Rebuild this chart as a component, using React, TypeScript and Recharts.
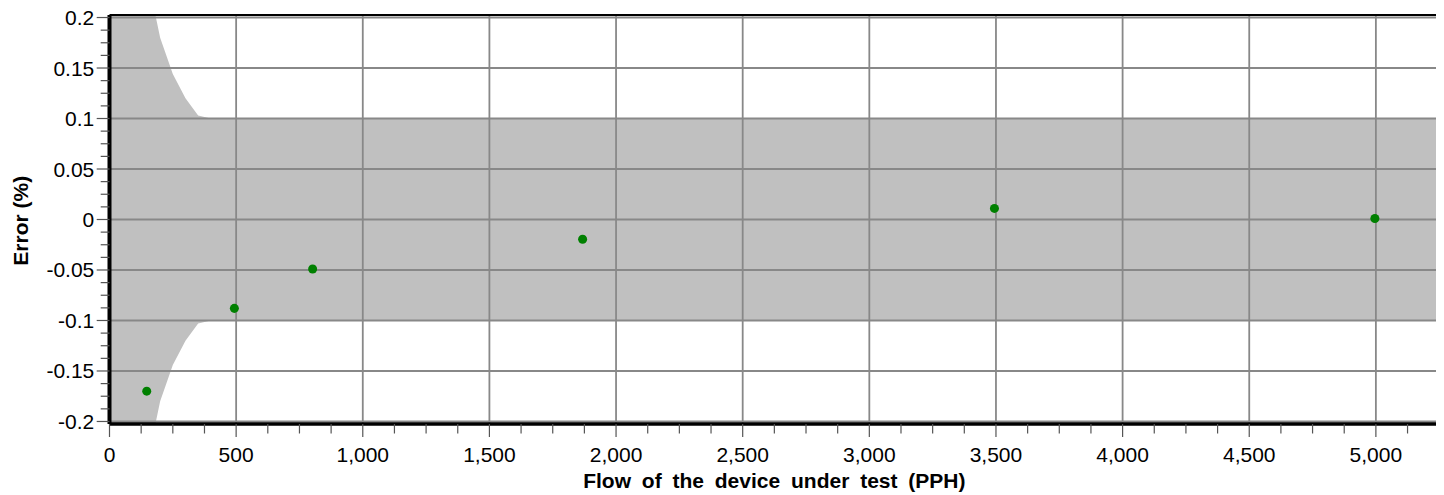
import React from 'react';
import { ComposedChart, Area, Scatter, XAxis, YAxis, ReferenceLine, Label } from 'recharts';

// Tolerance envelope (± half width, % error) vs flow (PPH)
const bandFlow = [0, 150, 200, 250, 300, 350, 400, 5250];
const bandHalfWidth = [0.6, 0.24, 0.18, 0.144, 0.12, 0.103, 0.1, 0.1];

// Measured points
const pointFlow = [147, 493, 802, 1868, 3494, 4996];
const pointError = [-0.17, -0.088, -0.049, -0.0195, 0.011, 0.001];

// Axis ticks
const xMajorTicks = [0, 500, 1000, 1500, 2000, 2500, 3000, 3500, 4000, 4500, 5000];
const xMinorTicks = [
  125, 250, 375, 625, 750, 875, 1125, 1250, 1375, 1625, 1750, 1875, 2125, 2250, 2375,
  2625, 2750, 2875, 3125, 3250, 3375, 3625, 3750, 3875, 4125, 4250, 4375, 4625, 4750,
  4875, 5125, 5250,
];
const yMajorTicks = [-0.2, -0.15, -0.1, -0.05, 0, 0.05, 0.1, 0.15, 0.2];
const yMinorTicks = [
  -0.1875, -0.175, -0.1625, -0.1375, -0.125, -0.1125, -0.0875, -0.075, -0.0625,
  -0.0375, -0.025, -0.0125, 0.0125, 0.025, 0.0375, 0.0625, 0.075, 0.0875, 0.1125,
  0.125, 0.1375, 0.1625, 0.175, 0.1875,
];

const X_DOMAIN: [number, number] = [0, 5250];
const Y_DOMAIN: [number, number] = [-0.2025, 0.2025];

const xTitle = 'Flow of the device under test (PPH)';
const yTitle = 'Error (%)';

const FONT = '"Liberation Sans", Arial, Helvetica, sans-serif';

const bandData = bandFlow.map((f, i) => ({ flow: f, band: [-bandHalfWidth[i], bandHalfWidth[i]] }));
const scatterData = pointFlow.map((f, i) => ({ flow: f, err: pointError[i] }));
const xAllTicks = [...xMajorTicks, ...xMinorTicks].sort((a, b) => a - b);
const yAllTicks = [...yMajorTicks, ...yMinorTicks].sort((a, b) => a - b);

const XTick = (props: any) => {
  const { x, y, payload } = props;
  const v = payload.value;
  const major = xMajorTicks.indexOf(v) >= 0;
  return (
    <g>
      <line x1={x} x2={x} y1={y} y2={y + (major ? 13 : 9.5)} stroke="#555" strokeWidth={1.2} />
      {major && (
        <text x={x} y={y + 37.7} textAnchor="middle" fontSize={21} fontFamily={FONT} fill="#000">
          {v.toLocaleString('en-US')}
        </text>
      )}
    </g>
  );
};

const YTick = (props: any) => {
  const { x, y, payload } = props;
  const v = payload.value;
  const major = yMajorTicks.find((m) => Math.abs(m - v) < 1e-9);
  const isMajor = major !== undefined;
  return (
    <g>
      <line x1={x - (isMajor ? 12.8 : 8.8)} x2={x} y1={y} y2={y} stroke="#555" strokeWidth={1.2} />
      {isMajor && (
        <text x={x - 15.2} y={y + 7.5} textAnchor="end" fontSize={21} fontFamily={FONT} fill="#000">
          {String(major)}
        </text>
      )}
    </g>
  );
};

export default function App() {
  const W = 1436;
  const H = 495;
  return (
    <div style={{ width: W, height: H, marginTop: -8 }}>
      <ComposedChart
        width={W}
        height={H}
        data={bandData}
        margin={{ top: 15, right: 4.8, left: 0, bottom: 0 }}
      >
        <Area
          dataKey="band"
          type="linear"
          fill="#c0c0c0"
          fillOpacity={1}
          stroke="none"
          isAnimationActive={false}
          dot={false}
          activeDot={false}
        />
        {yMajorTicks.map((t) => (
          <ReferenceLine key={'h' + t} y={t} stroke="#888" strokeWidth={1.8} zIndex={150} />
        ))}
        {xMajorTicks.filter((t) => t > 0).map((t) => (
          <ReferenceLine key={'v' + t} x={t} stroke="#888" strokeWidth={1.8} zIndex={150} />
        ))}
        <ReferenceLine y={Y_DOMAIN[1]} stroke="#000" strokeWidth={2} zIndex={160} />
        <ReferenceLine x={X_DOMAIN[1]} stroke="#000" strokeWidth={2} zIndex={160} />
        <XAxis
          type="number"
          dataKey="flow"
          domain={X_DOMAIN}
          allowDataOverflow
          ticks={xAllTicks}
          interval={0}
          tickSize={0}
          tickMargin={0}
          tickLine={false}
          tick={XTick}
          axisLine={{ stroke: '#000', strokeWidth: 3.5 }}
          height={71}
        >
          <Label
            content={() => (
              <text
                x={101.5 + 1329.7 / 2}
                y={488.3}
                textAnchor="middle"
                fontSize={21}
                fontWeight="bold"
                fontFamily={FONT}
                wordSpacing={5}
                fill="#000"
              >
                {xTitle}
              </text>
            )}
          />
        </XAxis>
        <YAxis
          type="number"
          domain={Y_DOMAIN}
          allowDataOverflow
          ticks={yAllTicks}
          interval={0}
          tickSize={0}
          tickMargin={0}
          tickLine={false}
          tick={YTick}
          axisLine={{ stroke: '#000', strokeWidth: 4 }}
          width={101.5}
        >
          <Label
            content={() => (
              <text
                x={13}
                y={220.8}
                transform="rotate(-90, 13, 220.8)"
                textAnchor="middle"
                dominantBaseline="central"
                fontSize={21}
                fontWeight="bold"
                fontFamily={FONT}
                fill="#000"
              >
                {yTitle}
              </text>
            )}
          />
        </YAxis>
        <Scatter data={scatterData} dataKey="err" fill="#008000" isAnimationActive={false} />
      </ComposedChart>
    </div>
  );
}
